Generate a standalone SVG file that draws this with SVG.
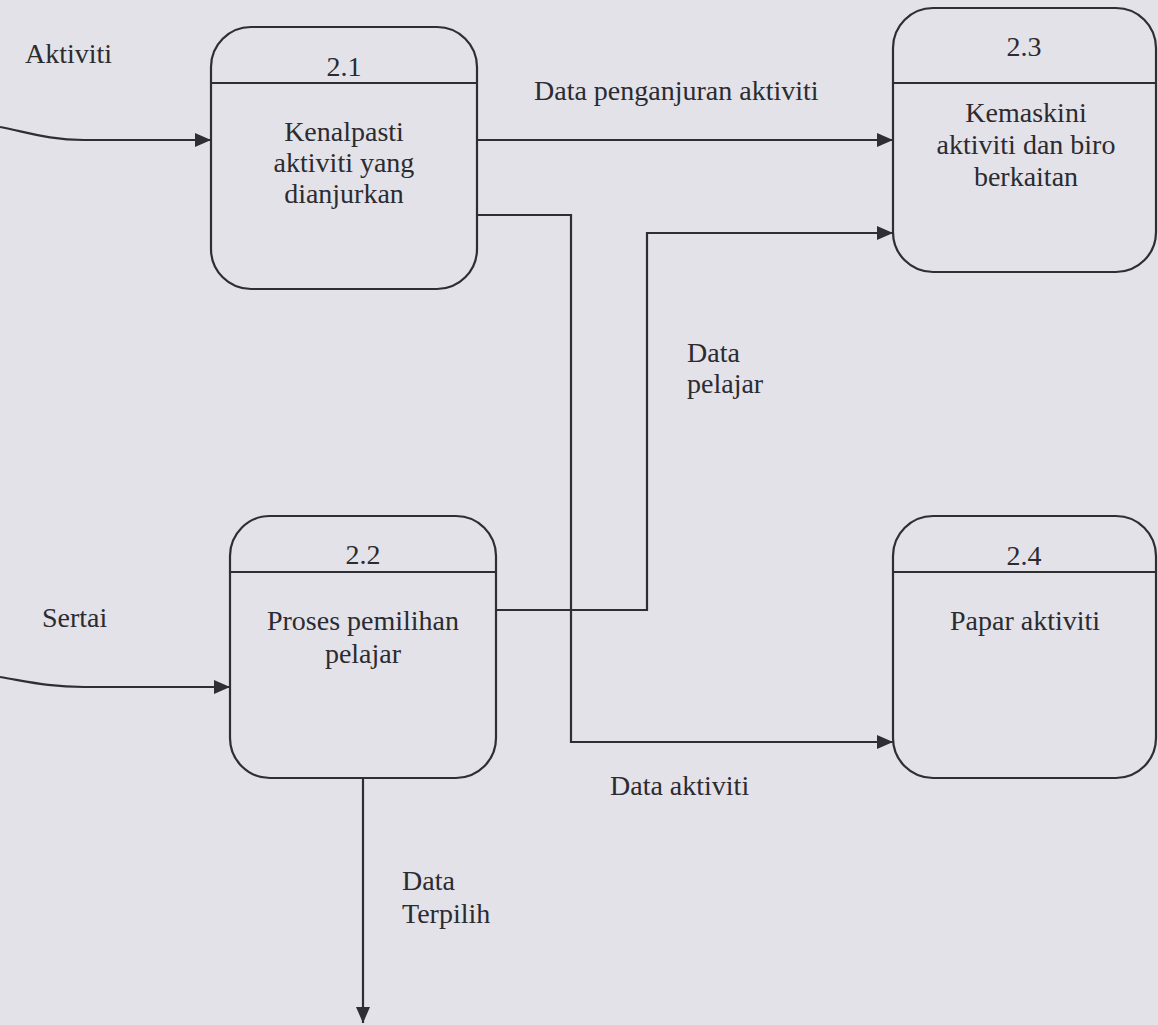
<svg xmlns="http://www.w3.org/2000/svg" width="1158" height="1025" viewBox="0 0 1158 1025">
  <style>
    .bg { fill: #e3e2e9; }
    .box { fill: none; stroke: #2e2e33; stroke-width: 2.2; }
    .div { stroke: #2e2e33; stroke-width: 2.2; }
    .flow { fill: none; stroke: #2e2e33; stroke-width: 2.2; }
    text { font-family: "Liberation Serif", "Times New Roman", serif; font-size: 28px; fill: #2b2b30; }
    .c { text-anchor: middle; }
  </style>
  <defs>
    <marker id="arrow" markerUnits="userSpaceOnUse" markerWidth="18" markerHeight="14" refX="16" refY="7" orient="auto">
      <path d="M0,0 L16,7 L0,14 Z" fill="#2e2e33"/>
    </marker>
  </defs>

  <rect class="bg" x="0" y="0" width="1158" height="1025"/>

  <!-- data flows -->
  <g id="connectors">
    <path class="flow" d="M0,127 C30,133 50,140 84,140 L211,140" marker-end="url(#arrow)"/>
    <path class="flow" d="M477,140 L893,140" marker-end="url(#arrow)"/>
    <path class="flow" d="M477,215 H571 V742 H893" marker-end="url(#arrow)"/>
    <path class="flow" d="M495,610 H647 V233 H893" marker-end="url(#arrow)"/>
    <path class="flow" d="M0,677 C30,682 50,687 84,687 L230,687" marker-end="url(#arrow)"/>
    <path class="flow" d="M363,778 V1023" marker-end="url(#arrow)"/>
  </g>

  <!-- flow labels -->
  <g id="labels">
    <text x="25" y="63">Aktiviti</text>
    <text x="534" y="100">Data penganjuran aktiviti</text>
    <text x="687" y="362">Data</text>
    <text x="687" y="393">pelajar</text>
    <text x="42" y="627">Sertai</text>
    <text x="610" y="795">Data aktiviti</text>
    <text x="402" y="890">Data</text>
    <text x="402" y="923">Terpilih</text>
  </g>

  <!-- processes -->
  <g id="p2_1">
    <rect class="box" x="211" y="27" width="266" height="262" rx="40" ry="40"/>
    <line class="div" x1="211" y1="83" x2="477" y2="83"/>
    <text class="c" x="344" y="76">2.1</text>
    <text class="c" x="344" y="141">Kenalpasti</text>
    <text class="c" x="344" y="172">aktiviti yang</text>
    <text class="c" x="344" y="203">dianjurkan</text>
  </g>

  <g id="p2_2">
    <rect class="box" x="230" y="516" width="266" height="262" rx="40" ry="40"/>
    <line class="div" x1="230" y1="572" x2="496" y2="572"/>
    <text class="c" x="363" y="564">2.2</text>
    <text class="c" x="363" y="630">Proses pemilihan</text>
    <text class="c" x="363" y="663">pelajar</text>
  </g>

  <g id="p2_3">
    <rect class="box" x="893" y="8" width="263" height="264" rx="40" ry="40"/>
    <line class="div" x1="893" y1="83" x2="1156" y2="83"/>
    <text class="c" x="1024" y="56">2.3</text>
    <text class="c" x="1026" y="122">Kemaskini</text>
    <text class="c" x="1026" y="154">aktiviti dan biro</text>
    <text class="c" x="1026" y="186">berkaitan</text>
  </g>

  <g id="p2_4">
    <rect class="box" x="893" y="516" width="263" height="262" rx="40" ry="40"/>
    <line class="div" x1="893" y1="572" x2="1156" y2="572"/>
    <text class="c" x="1024" y="565">2.4</text>
    <text class="c" x="1025" y="630">Papar aktiviti</text>
  </g>
</svg>
